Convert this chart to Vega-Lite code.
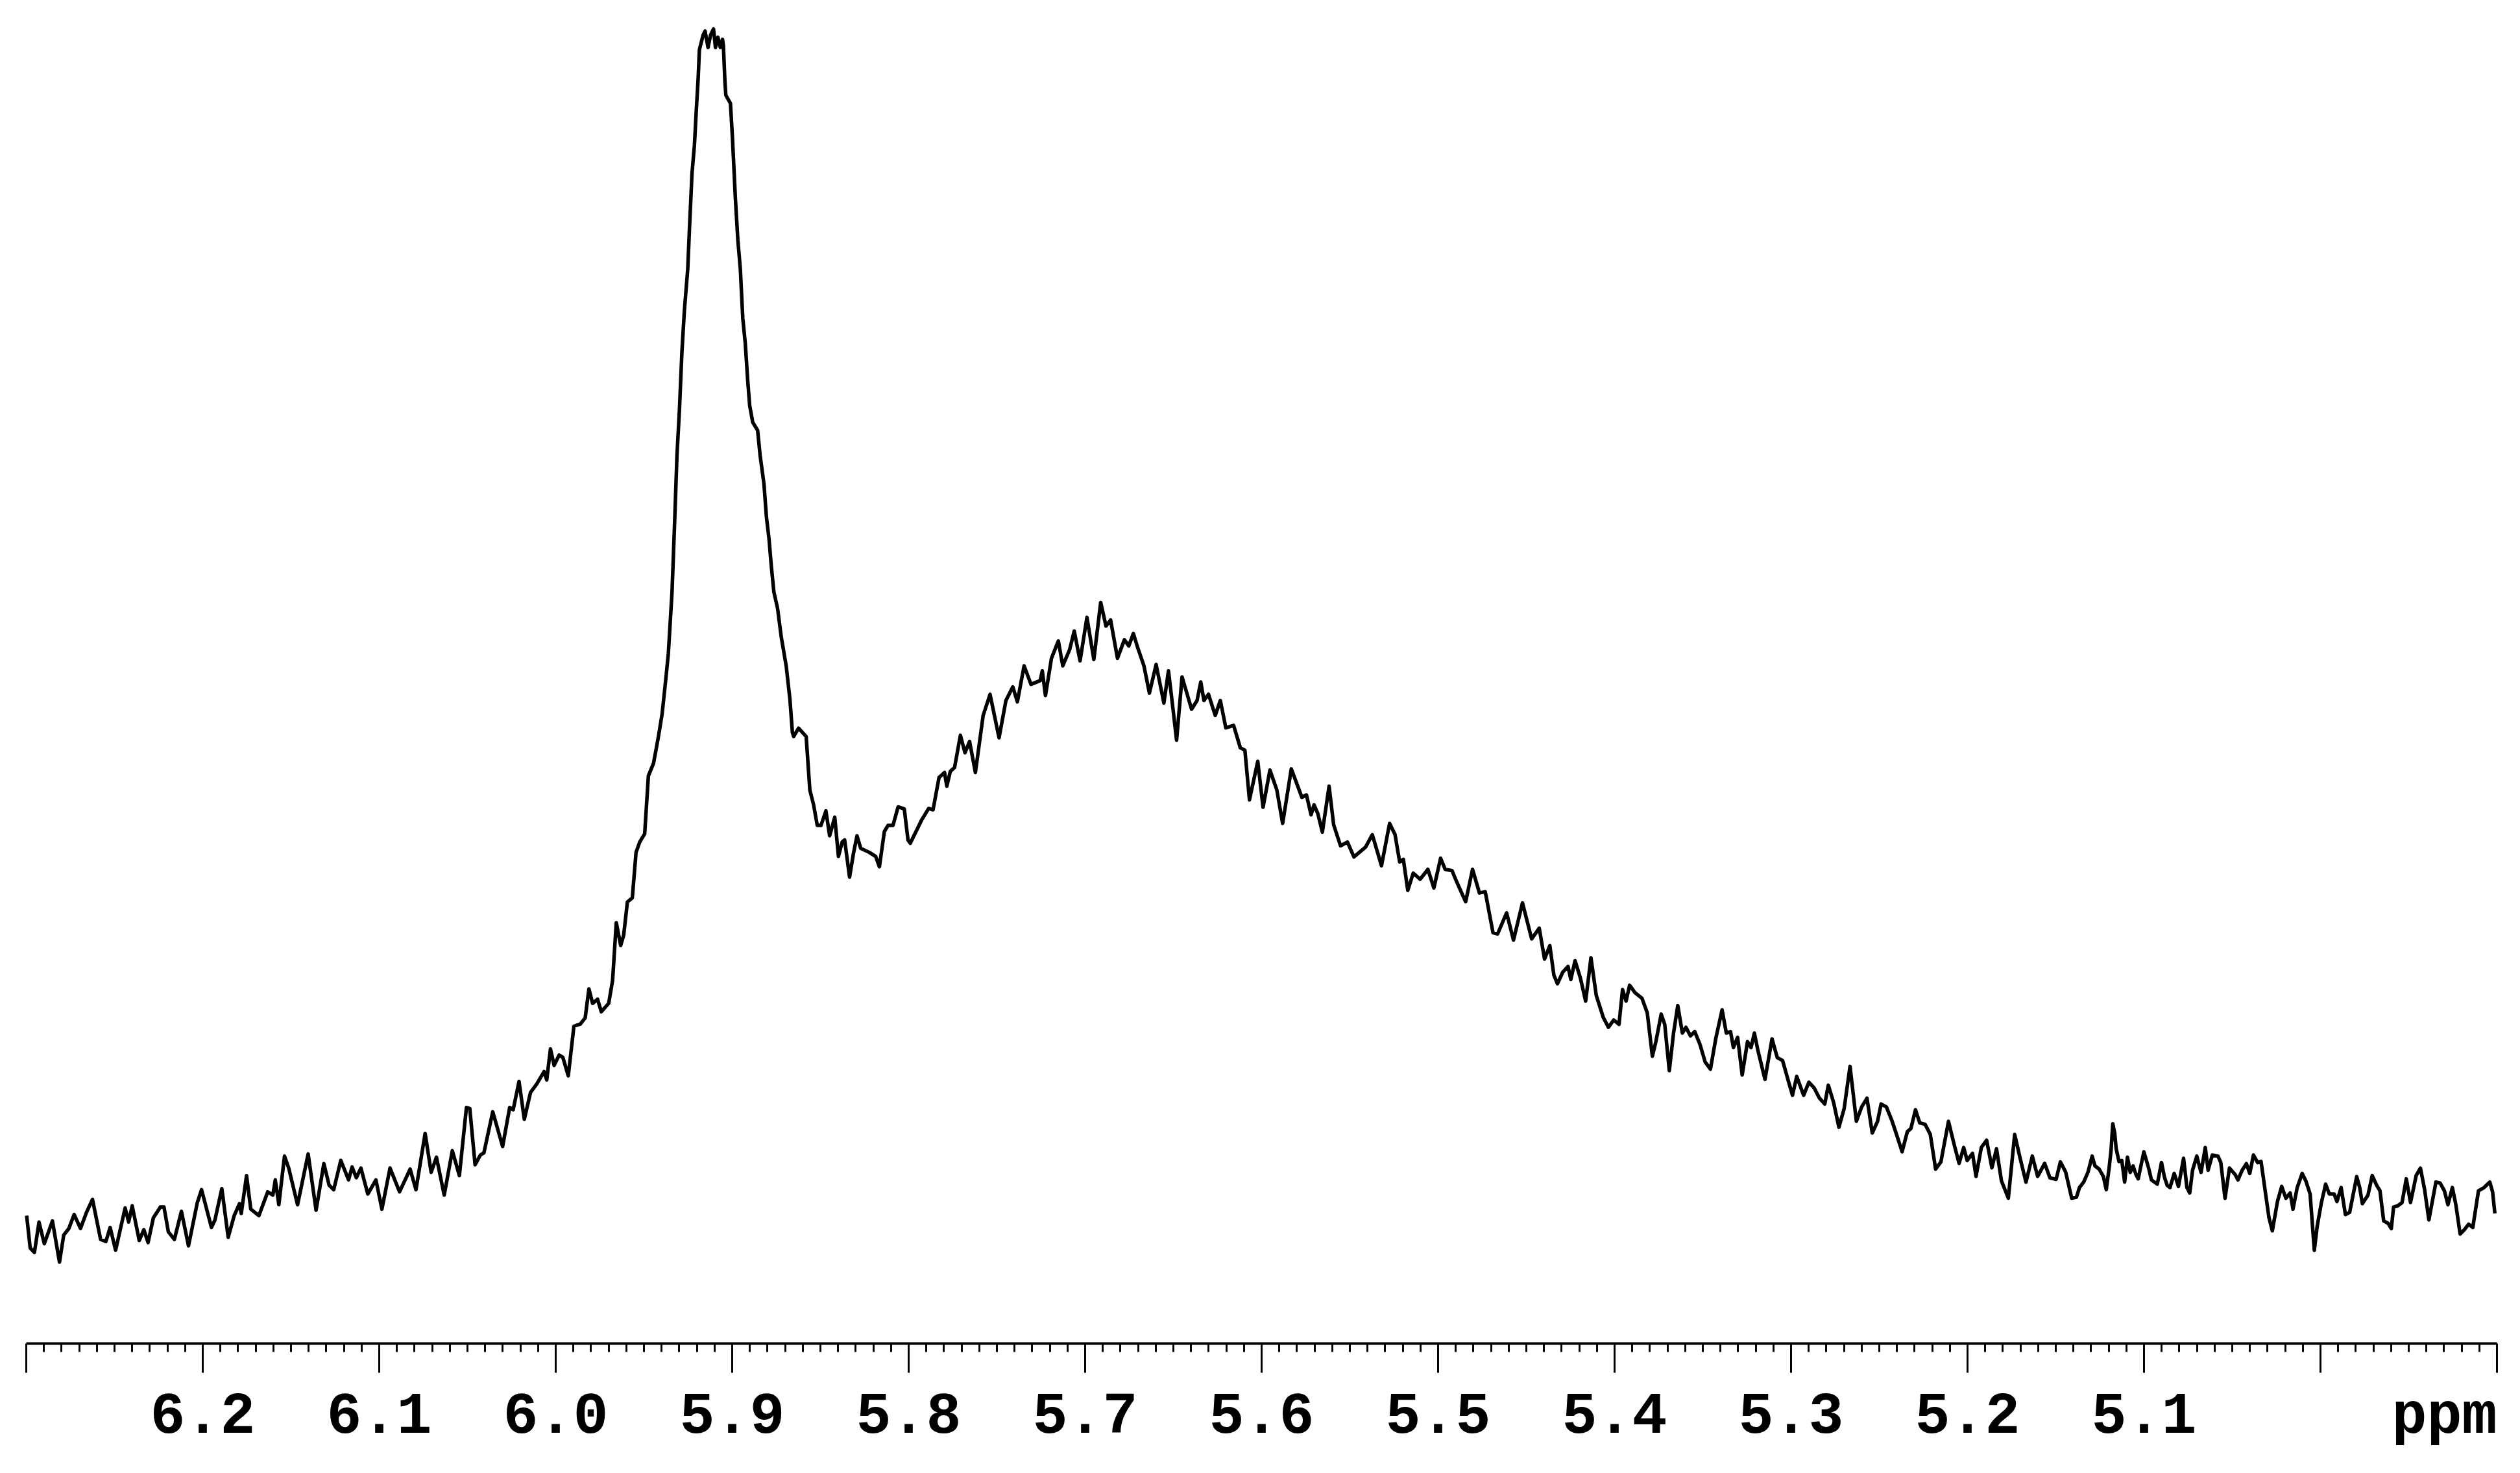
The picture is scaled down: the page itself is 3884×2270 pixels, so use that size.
{
  "$schema": "https://vega.github.io/schema/vega-lite/v6.json",
  "width": 3808,
  "height": 2070,
  "autosize": {"type": "none"},
  "padding": {"left": 40, "right": 36, "top": 0, "bottom": 200},
  "background": "white",
  "config": {"view": {"stroke": null}},
  "data": {"values": [
    {"ppm": 6.2996, "i": 9.50}, {"ppm": 6.2976, "i": 7.09}, {"ppm": 6.2952, "i": 6.76}, {"ppm": 6.2926, "i": 9.02},
    {"ppm": 6.2896, "i": 7.41}, {"ppm": 6.2850, "i": 9.10}, {"ppm": 6.2810, "i": 6.04}, {"ppm": 6.2786, "i": 8.05},
    {"ppm": 6.2757, "i": 8.54}, {"ppm": 6.2727, "i": 9.58}, {"ppm": 6.2691, "i": 8.54}, {"ppm": 6.2657, "i": 9.74},
    {"ppm": 6.2623, "i": 10.71}, {"ppm": 6.2577, "i": 7.73}, {"ppm": 6.2547, "i": 7.57}, {"ppm": 6.2523, "i": 8.62},
    {"ppm": 6.2492, "i": 6.93}, {"ppm": 6.2438, "i": 10.07}, {"ppm": 6.2418, "i": 9.02}, {"ppm": 6.2398, "i": 10.23},
    {"ppm": 6.2358, "i": 7.65}, {"ppm": 6.2332, "i": 8.45}, {"ppm": 6.2308, "i": 7.49}, {"ppm": 6.2278, "i": 9.34},
    {"ppm": 6.2238, "i": 10.15}, {"ppm": 6.2218, "i": 10.15}, {"ppm": 6.2193, "i": 8.29}, {"ppm": 6.2159, "i": 7.73},
    {"ppm": 6.2119, "i": 9.82}, {"ppm": 6.2079, "i": 7.25}, {"ppm": 6.2029, "i": 10.47}, {"ppm": 6.2005, "i": 11.43},
    {"ppm": 6.1949, "i": 8.62}, {"ppm": 6.1929, "i": 9.18}, {"ppm": 6.1890, "i": 11.51}, {"ppm": 6.1854, "i": 7.89},
    {"ppm": 6.1820, "i": 9.50}, {"ppm": 6.1790, "i": 10.39}, {"ppm": 6.1780, "i": 9.66}, {"ppm": 6.1750, "i": 12.48},
    {"ppm": 6.1726, "i": 9.98}, {"ppm": 6.1680, "i": 9.50}, {"ppm": 6.1630, "i": 11.27}, {"ppm": 6.1601, "i": 11.03},
    {"ppm": 6.1587, "i": 12.16}, {"ppm": 6.1567, "i": 10.31}, {"ppm": 6.1535, "i": 13.93}, {"ppm": 6.1511, "i": 13.04},
    {"ppm": 6.1461, "i": 10.31}, {"ppm": 6.1401, "i": 14.09}, {"ppm": 6.1356, "i": 9.90}, {"ppm": 6.1312, "i": 13.37},
    {"ppm": 6.1282, "i": 11.76}, {"ppm": 6.1256, "i": 11.43}, {"ppm": 6.1216, "i": 13.61}, {"ppm": 6.1172, "i": 12.16},
    {"ppm": 6.1152, "i": 13.12}, {"ppm": 6.1128, "i": 12.32}, {"ppm": 6.1102, "i": 13.04}, {"ppm": 6.1063, "i": 11.11},
    {"ppm": 6.1017, "i": 12.16}, {"ppm": 6.0983, "i": 9.98}, {"ppm": 6.0937, "i": 13.04}, {"ppm": 6.0883, "i": 11.27},
    {"ppm": 6.0823, "i": 12.96}, {"ppm": 6.0790, "i": 11.43}, {"ppm": 6.0738, "i": 15.62}, {"ppm": 6.0704, "i": 12.72},
    {"ppm": 6.0674, "i": 13.85}, {"ppm": 6.0630, "i": 11.03}, {"ppm": 6.0584, "i": 14.33}, {"ppm": 6.0544, "i": 12.48},
    {"ppm": 6.0504, "i": 17.55}, {"ppm": 6.0485, "i": 17.47}, {"ppm": 6.0455, "i": 13.29}, {"ppm": 6.0425, "i": 14.01},
    {"ppm": 6.0405, "i": 14.17}, {"ppm": 6.0355, "i": 17.23}, {"ppm": 6.0299, "i": 14.65}, {"ppm": 6.0259, "i": 17.55},
    {"ppm": 6.0239, "i": 17.39}, {"ppm": 6.0206, "i": 19.49},
    {"ppm": 6.0176, "i": 16.67}, {"ppm": 6.0141, "i": 18.67}, {"ppm": 6.0106, "i": 19.29}, {"ppm": 6.0064, "i": 20.22},
    {"ppm": 6.0049, "i": 19.60}, {"ppm": 6.0028, "i": 21.91}, {"ppm": 6.0007, "i": 20.68}, {"ppm": 5.9979, "i": 21.45},
    {"ppm": 5.9958, "i": 21.29}, {"ppm": 5.9927, "i": 19.91}, {"ppm": 5.9895, "i": 23.60}, {"ppm": 5.9859, "i": 23.76},
    {"ppm": 5.9831, "i": 24.22}, {"ppm": 5.9810, "i": 26.38}, {"ppm": 5.9789, "i": 25.30}, {"ppm": 5.9761, "i": 25.61},
    {"ppm": 5.9740, "i": 24.68}, {"ppm": 5.9698, "i": 25.30}, {"ppm": 5.9676, "i": 26.99}, {"ppm": 5.9655, "i": 31.31},
    {"ppm": 5.9630, "i": 29.61}, {"ppm": 5.9613, "i": 30.38}, {"ppm": 5.9592, "i": 32.85}, {"ppm": 5.9564, "i": 33.16},
    {"ppm": 5.9543, "i": 36.54}, {"ppm": 5.9522, "i": 37.31}, {"ppm": 5.9494, "i": 37.93}, {"ppm": 5.9473, "i": 42.24},
    {"ppm": 5.9444, "i": 43.17}, {"ppm": 5.9416, "i": 45.17}, {"ppm": 5.9395, "i": 46.87}, {"ppm": 5.9374, "i": 49.48},
    {"ppm": 5.9360, "i": 51.33},
    {"ppm": 5.9339, "i": 55.94}, {"ppm": 5.9325, "i": 60.87}, {"ppm": 5.9311, "i": 66.11}, {"ppm": 5.9297, "i": 69.50},
    {"ppm": 5.9283, "i": 73.81}, {"ppm": 5.9269, "i": 76.89}, {"ppm": 5.9250, "i": 79.97}, {"ppm": 5.9240, "i": 83.05},
    {"ppm": 5.9226, "i": 87.06}, {"ppm": 5.9212, "i": 89.22}, {"ppm": 5.9202, "i": 91.68}, {"ppm": 5.9191, "i": 94.15},
    {"ppm": 5.9184, "i": 96.30}, {"ppm": 5.9163, "i": 97.38}, {"ppm": 5.9152, "i": 97.69}, {"ppm": 5.9135, "i": 96.46},
    {"ppm": 5.9121, "i": 97.38}, {"ppm": 5.9104, "i": 97.84}, {"ppm": 5.9093, "i": 96.46}, {"ppm": 5.9079, "i": 97.23},
    {"ppm": 5.9065, "i": 96.46}, {"ppm": 5.9053, "i": 97.07}, {"ppm": 5.9048, "i": 96.61}, {"ppm": 5.9039, "i": 93.84},
    {"ppm": 5.9034, "i": 92.91}, {"ppm": 5.9008, "i": 92.30}, {"ppm": 5.8997, "i": 89.83}, {"ppm": 5.8980, "i": 85.21},
    {"ppm": 5.8966, "i": 82.13}, {"ppm": 5.8952, "i": 79.97}, {"ppm": 5.8938, "i": 76.28}, {"ppm": 5.8924, "i": 74.43},
    {"ppm": 5.8910, "i": 71.65}, {"ppm": 5.8899, "i": 69.81}, {"ppm": 5.8882, "i": 68.57}, {"ppm": 5.8854, "i": 67.96},
    {"ppm": 5.8840, "i": 66.11}, {"ppm": 5.8818, "i": 63.95}, {"ppm": 5.8804, "i": 61.49}, {"ppm": 5.8790, "i": 59.95},
    {"ppm": 5.8776, "i": 57.79}, {"ppm": 5.8762, "i": 55.94}, {"ppm": 5.8741, "i": 54.71},
    {"ppm": 5.8720, "i": 52.57}, {"ppm": 5.8692, "i": 50.41}, {"ppm": 5.8671, "i": 47.94}, {"ppm": 5.8657, "i": 45.48},
    {"ppm": 5.8650, "i": 45.17}, {"ppm": 5.8622, "i": 45.79}, {"ppm": 5.8579, "i": 45.17}, {"ppm": 5.8558, "i": 41.17},
    {"ppm": 5.8537, "i": 40.09}, {"ppm": 5.8516, "i": 38.55}, {"ppm": 5.8495, "i": 38.55}, {"ppm": 5.8467, "i": 39.63},
    {"ppm": 5.8446, "i": 37.78}, {"ppm": 5.8417, "i": 39.16}, {"ppm": 5.8396, "i": 36.24}, {"ppm": 5.8375, "i": 37.31},
    {"ppm": 5.8361, "i": 37.47}, {"ppm": 5.8333, "i": 34.70}, {"ppm": 5.8312, "i": 36.39}, {"ppm": 5.8291, "i": 37.78},
    {"ppm": 5.8270, "i": 36.85}, {"ppm": 5.8221, "i": 36.54}, {"ppm": 5.8185, "i": 36.24}, {"ppm": 5.8164, "i": 35.47},
    {"ppm": 5.8136, "i": 38.09}, {"ppm": 5.8115, "i": 38.55}, {"ppm": 5.8087, "i": 38.55}, {"ppm": 5.8058, "i": 39.93},
    {"ppm": 5.8023, "i": 39.78}, {"ppm": 5.8002, "i": 37.47},
    {"ppm": 5.7989, "i": 37.22}, {"ppm": 5.7924, "i": 38.97}, {"ppm": 5.7885, "i": 39.81}, {"ppm": 5.7860, "i": 39.71},
    {"ppm": 5.7826, "i": 42.12}, {"ppm": 5.7795, "i": 42.49}, {"ppm": 5.7782, "i": 41.47}, {"ppm": 5.7762, "i": 42.58},
    {"ppm": 5.7738, "i": 42.86}, {"ppm": 5.7705, "i": 45.26}, {"ppm": 5.7679, "i": 43.96}, {"ppm": 5.7653, "i": 44.80},
    {"ppm": 5.7620, "i": 42.49}, {"ppm": 5.7576, "i": 46.74}, {"ppm": 5.7537, "i": 48.31}, {"ppm": 5.7524, "i": 47.48},
    {"ppm": 5.7486, "i": 45.07}, {"ppm": 5.7447, "i": 47.85}, {"ppm": 5.7408, "i": 48.86}, {"ppm": 5.7382, "i": 47.75},
    {"ppm": 5.7344, "i": 50.43}, {"ppm": 5.7305, "i": 49.05}, {"ppm": 5.7253, "i": 49.33}, {"ppm": 5.7241, "i": 50.06},
    {"ppm": 5.7223, "i": 48.22}, {"ppm": 5.7189, "i": 50.99}, {"ppm": 5.7150, "i": 52.28}, {"ppm": 5.7125, "i": 50.43},
    {"ppm": 5.7086, "i": 51.64}, {"ppm": 5.7060, "i": 53.02}, {"ppm": 5.7027, "i": 50.80}, {"ppm": 5.6988, "i": 54.04},
    {"ppm": 5.6949, "i": 50.90}, {"ppm": 5.6910, "i": 55.15}, {"ppm": 5.6880, "i": 53.39}, {"ppm": 5.6854, "i": 53.85},
    {"ppm": 5.6815, "i": 50.99}, {"ppm": 5.6776, "i": 52.37}, {"ppm": 5.6751, "i": 51.91}, {"ppm": 5.6725, "i": 52.84},
    {"ppm": 5.6699, "i": 51.73}, {"ppm": 5.6665, "i": 50.43}, {"ppm": 5.6634, "i": 48.40}, {"ppm": 5.6596, "i": 50.53},
    {"ppm": 5.6552, "i": 47.66}, {"ppm": 5.6526, "i": 50.06}, {"ppm": 5.6506, "i": 47.85}, {"ppm": 5.6480, "i": 44.89},
    {"ppm": 5.6449, "i": 49.60}, {"ppm": 5.6395, "i": 47.20}, {"ppm": 5.6364, "i": 47.85}, {"ppm": 5.6343, "i": 49.23},
    {"ppm": 5.6325, "i": 47.85}, {"ppm": 5.6299, "i": 48.31}, {"ppm": 5.6261, "i": 46.74}, {"ppm": 5.6232, "i": 47.85},
    {"ppm": 5.6201, "i": 45.81}, {"ppm": 5.6157, "i": 46.00}, {"ppm": 5.6119, "i": 44.33}, {"ppm": 5.6093, "i": 44.15},
    {"ppm": 5.6067, "i": 40.45}, {"ppm": 5.6020, "i": 43.32}, {"ppm": 5.5990, "i": 39.90}, {"ppm": 5.5951, "i": 42.67},
    {"ppm": 5.5912, "i": 41.19}, {"ppm": 5.5879, "i": 38.70}, {"ppm": 5.5830, "i": 42.76}, {"ppm": 5.5796, "i": 41.56},
    {"ppm": 5.5770, "i": 40.64}, {"ppm": 5.5744, "i": 40.82}, {"ppm": 5.5718, "i": 39.34}, {"ppm": 5.5701, "i": 40.08},
    {"ppm": 5.5680, "i": 39.44}, {"ppm": 5.5654, "i": 38.05}, {"ppm": 5.5616, "i": 41.47}, {"ppm": 5.5590, "i": 38.60},
    {"ppm": 5.5551, "i": 37.03}, {"ppm": 5.5512, "i": 37.31}, {"ppm": 5.5475, "i": 36.20}, {"ppm": 5.5409, "i": 36.94},
    {"ppm": 5.5371, "i": 37.86}, {"ppm": 5.5319, "i": 35.55}, {"ppm": 5.5273, "i": 38.70}, {"ppm": 5.5242, "i": 37.86},
    {"ppm": 5.5216, "i": 35.83}, {"ppm": 5.5195, "i": 36.02}, {"ppm": 5.5170, "i": 33.71}, {"ppm": 5.5139, "i": 35.00},
    {"ppm": 5.5100, "i": 34.54}, {"ppm": 5.5056, "i": 35.28}, {"ppm": 5.5022, "i": 33.89}, {"ppm": 5.4984, "i": 36.11},
    {"ppm": 5.4958, "i": 35.28}, {"ppm": 5.4919, "i": 35.18}, {"ppm": 5.4893, "i": 34.35}, {"ppm": 5.4842, "i": 32.87},
    {"ppm": 5.4803, "i": 35.28}, {"ppm": 5.4764, "i": 33.52}, {"ppm": 5.4731, "i": 33.61}, {"ppm": 5.4687, "i": 30.56},
    {"ppm": 5.4661, "i": 30.47}, {"ppm": 5.4610, "i": 32.04}, {"ppm": 5.4571, "i": 30.01}, {"ppm": 5.4520, "i": 32.78},
    {"ppm": 5.4468, "i": 30.10}, {"ppm": 5.4425, "i": 30.90}, {"ppm": 5.4395, "i": 28.60}, {"ppm": 5.4365, "i": 29.60},
    {"ppm": 5.4342, "i": 27.40},
    {"ppm": 5.4322, "i": 26.76}, {"ppm": 5.4292, "i": 27.62}, {"ppm": 5.4262, "i": 28.05}, {"ppm": 5.4246, "i": 27.08},
    {"ppm": 5.4222, "i": 28.48}, {"ppm": 5.4192, "i": 27.19}, {"ppm": 5.4162, "i": 25.47}, {"ppm": 5.4132, "i": 28.70},
    {"ppm": 5.4102, "i": 25.90}, {"ppm": 5.4063, "i": 24.28}, {"ppm": 5.4033, "i": 23.52}, {"ppm": 5.4003, "i": 24.06},
    {"ppm": 5.3973, "i": 23.74}, {"ppm": 5.3953, "i": 26.33}, {"ppm": 5.3933, "i": 25.47}, {"ppm": 5.3913, "i": 26.65},
    {"ppm": 5.3883, "i": 26.11}, {"ppm": 5.3843, "i": 25.68}, {"ppm": 5.3813, "i": 24.60}, {"ppm": 5.3784, "i": 21.37},
    {"ppm": 5.3764, "i": 22.45}, {"ppm": 5.3734, "i": 24.50}, {"ppm": 5.3714, "i": 23.74}, {"ppm": 5.3688, "i": 20.29},
    {"ppm": 5.3664, "i": 23.09}, {"ppm": 5.3640, "i": 25.14}, {"ppm": 5.3614, "i": 23.09}, {"ppm": 5.3594, "i": 23.52},
    {"ppm": 5.3568, "i": 22.88}, {"ppm": 5.3544, "i": 23.20}, {"ppm": 5.3514, "i": 22.23}, {"ppm": 5.3485, "i": 20.94},
    {"ppm": 5.3455, "i": 20.40}, {"ppm": 5.3425, "i": 22.66}, {"ppm": 5.3389, "i": 24.82}, {"ppm": 5.3365, "i": 23.09},
    {"ppm": 5.3341, "i": 23.20}, {"ppm": 5.3325, "i": 22.01}, {"ppm": 5.3301, "i": 22.77}, {"ppm": 5.3275, "i": 19.97},
    {"ppm": 5.3245, "i": 22.45}, {"ppm": 5.3225, "i": 22.01}, {"ppm": 5.3206, "i": 23.09}, {"ppm": 5.3186, "i": 21.80},
    {"ppm": 5.3146, "i": 19.64}, {"ppm": 5.3106, "i": 22.66}, {"ppm": 5.3076, "i": 21.26}, {"ppm": 5.3046, "i": 21.04},
    {"ppm": 5.3016, "i": 19.64}, {"ppm": 5.2990, "i": 18.46}, {"ppm": 5.2966, "i": 19.86}, {"ppm": 5.2927, "i": 18.46},
    {"ppm": 5.2897, "i": 19.43}, {"ppm": 5.2867, "i": 19.00}, {"ppm": 5.2837, "i": 18.24}, {"ppm": 5.2807, "i": 17.81},
    {"ppm": 5.2787, "i": 19.21}, {"ppm": 5.2757, "i": 17.92}, {"ppm": 5.2727, "i": 16.08}, {"ppm": 5.2697, "i": 17.49},
    {"ppm": 5.2664, "i": 20.61}, {"ppm": 5.2628, "i": 16.52}, {"ppm": 5.2598, "i": 17.59}, {"ppm": 5.2568, "i": 18.24},
    {"ppm": 5.2538, "i": 15.65}, {"ppm": 5.2508, "i": 16.52}, {"ppm": 5.2488, "i": 17.81}, {"ppm": 5.2458, "i": 17.59},
    {"ppm": 5.2428, "i": 16.62}, {"ppm": 5.2398, "i": 15.44}, {"ppm": 5.2369, "i": 14.25}, {"ppm": 5.2339, "i": 15.76},
    {"ppm": 5.2319, "i": 15.98}, {"ppm": 5.2293, "i": 17.38}, {"ppm": 5.2269, "i": 16.41}, {"ppm": 5.2239, "i": 16.30},
    {"ppm": 5.2209, "i": 15.54}, {"ppm": 5.2179, "i": 12.96}, {"ppm": 5.2149, "i": 13.50}, {"ppm": 5.2106, "i": 16.52},
    {"ppm": 5.2074, "i": 14.79}, {"ppm": 5.2046, "i": 13.39}, {"ppm": 5.2020, "i": 14.57}, {"ppm": 5.2000, "i": 13.60},
    {"ppm": 5.1970, "i": 14.14}, {"ppm": 5.1950, "i": 12.42}, {"ppm": 5.1920, "i": 14.57}, {"ppm": 5.1890, "i": 15.11},
    {"ppm": 5.1860, "i": 13.06}, {"ppm": 5.1834, "i": 14.47}, {"ppm": 5.1806, "i": 12.09}, {"ppm": 5.1767, "i": 10.80},
    {"ppm": 5.1731, "i": 15.54}, {"ppm": 5.1701, "i": 13.82}, {"ppm": 5.1667, "i": 11.99}, {"ppm": 5.1631, "i": 13.93},
    {"ppm": 5.1601, "i": 12.42}, {"ppm": 5.1561, "i": 13.39}, {"ppm": 5.1531, "i": 12.31}, {"ppm": 5.1496, "i": 12.20},
    {"ppm": 5.1472, "i": 13.50}, {"ppm": 5.1442, "i": 12.74}, {"ppm": 5.1408, "i": 10.80},
    {"ppm": 5.1381, "i": 10.87}, {"ppm": 5.1364, "i": 11.59}, {"ppm": 5.1340, "i": 12.00}, {"ppm": 5.1316, "i": 12.72},
    {"ppm": 5.1292, "i": 13.93}, {"ppm": 5.1276, "i": 13.20}, {"ppm": 5.1252, "i": 12.96}, {"ppm": 5.1228, "i": 12.40},
    {"ppm": 5.1212, "i": 11.43}, {"ppm": 5.1196, "i": 13.04}, {"ppm": 5.1185, "i": 14.33}, {"ppm": 5.1175, "i": 16.34},
    {"ppm": 5.1164, "i": 15.62}, {"ppm": 5.1156, "i": 14.49}, {"ppm": 5.1140, "i": 13.53}, {"ppm": 5.1124, "i": 13.61},
    {"ppm": 5.1108, "i": 12.00}, {"ppm": 5.1092, "i": 13.85}, {"ppm": 5.1076, "i": 12.72}, {"ppm": 5.1060, "i": 13.20},
    {"ppm": 5.1044, "i": 12.56}, {"ppm": 5.1031, "i": 12.24}, {"ppm": 5.0999, "i": 14.25}, {"ppm": 5.0972, "i": 13.04},
    {"ppm": 5.0956, "i": 12.16}, {"ppm": 5.0923, "i": 11.84}, {"ppm": 5.0899, "i": 13.45}, {"ppm": 5.0883, "i": 12.40},
    {"ppm": 5.0867, "i": 11.76}, {"ppm": 5.0851, "i": 11.59}, {"ppm": 5.0827, "i": 12.64}, {"ppm": 5.0803, "i": 11.67},
    {"ppm": 5.0774, "i": 13.77}, {"ppm": 5.0755, "i": 11.59}, {"ppm": 5.0739, "i": 11.19}, {"ppm": 5.0723, "i": 12.88},
    {"ppm": 5.0699, "i": 13.93}, {"ppm": 5.0675, "i": 12.72}, {"ppm": 5.0651, "i": 14.57}, {"ppm": 5.0635, "i": 12.88},
    {"ppm": 5.0611, "i": 14.01}, {"ppm": 5.0579, "i": 13.93}, {"ppm": 5.0563, "i": 13.45}, {"ppm": 5.0539, "i": 10.79},
    {"ppm": 5.0514, "i": 13.04}, {"ppm": 5.0482, "i": 12.56}, {"ppm": 5.0466, "i": 12.16}, {"ppm": 5.0442, "i": 12.88},
    {"ppm": 5.0418, "i": 13.37}, {"ppm": 5.0399, "i": 12.64}, {"ppm": 5.0378, "i": 14.01}, {"ppm": 5.0354, "i": 13.45},
    {"ppm": 5.0335, "i": 13.53}, {"ppm": 5.0309, "i": 11.11}, {"ppm": 5.0290, "i": 9.34}, {"ppm": 5.0271, "i": 8.37},
    {"ppm": 5.0242, "i": 10.55}, {"ppm": 5.0218, "i": 11.67}, {"ppm": 5.0194, "i": 10.79}, {"ppm": 5.0170, "i": 11.19},
    {"ppm": 5.0154, "i": 9.98}, {"ppm": 5.0130, "i": 11.59}, {"ppm": 5.0102, "i": 12.64}, {"ppm": 5.0081, "i": 12.08},
    {"ppm": 5.0057, "i": 11.11}, {"ppm": 5.0033, "i": 6.92}, {"ppm": 5.0017, "i": 8.70}, {"ppm": 4.9993, "i": 10.47},
    {"ppm": 4.9969, "i": 11.84}, {"ppm": 4.9948, "i": 11.11}, {"ppm": 4.9921, "i": 11.11}, {"ppm": 4.9905, "i": 10.55},
    {"ppm": 4.9881, "i": 11.59}, {"ppm": 4.9857, "i": 9.58}, {"ppm": 4.9833, "i": 9.74}, {"ppm": 4.9793, "i": 12.40},
    {"ppm": 4.9776, "i": 11.59}, {"ppm": 4.9761, "i": 10.39}, {"ppm": 4.9729, "i": 11.03}, {"ppm": 4.9705, "i": 12.48},
    {"ppm": 4.9680, "i": 11.76}, {"ppm": 4.9661, "i": 11.35}, {"ppm": 4.9640, "i": 9.10}, {"ppm": 4.9616, "i": 8.94},
    {"ppm": 4.9597, "i": 8.53}, {"ppm": 4.9584, "i": 10.14}, {"ppm": 4.9560, "i": 10.23}, {"ppm": 4.9536, "i": 10.47},
    {"ppm": 4.9512, "i": 12.24}, {"ppm": 4.9488, "i": 10.47}, {"ppm": 4.9456, "i": 12.48}, {"ppm": 4.9432, "i": 13.04},
    {"ppm": 4.9408, "i": 11.43}, {"ppm": 4.9384, "i": 9.18}, {"ppm": 4.9344, "i": 12.00}, {"ppm": 4.9320, "i": 11.92},
    {"ppm": 4.9296, "i": 11.35}, {"ppm": 4.9276, "i": 10.31}, {"ppm": 4.9251, "i": 11.59}, {"ppm": 4.9231, "i": 10.31},
    {"ppm": 4.9207, "i": 8.13}, {"ppm": 4.9183, "i": 8.45}, {"ppm": 4.9159, "i": 8.86}, {"ppm": 4.9135, "i": 8.62},
    {"ppm": 4.9103, "i": 11.35}, {"ppm": 4.9071, "i": 11.59}, {"ppm": 4.9039, "i": 12.00}, {"ppm": 4.9023, "i": 11.27},
    {"ppm": 4.9010, "i": 9.66}
  ]},
  "mark": {"type": "line", "color": "black", "strokeWidth": 5.5, "interpolate": "linear", "strokeJoin": "round"},
  "encoding": {
    "x": {
      "field": "ppm",
      "type": "quantitative",
      "scale": {"domain": [4.9, 6.3], "reverse": true, "nice": false, "zero": false},
      "axis": {
        "title": null,
        "grid": false,
        "values": [4.9,4.91,4.92,4.93,4.94,4.95,4.96,4.97,4.98,4.99,5,5.01,5.02,5.03,5.04,5.05,5.06,5.07,5.08,5.09,5.1,5.11,5.12,5.13,5.14,5.15,5.16,5.17,5.18,5.19,5.2,5.21,5.22,5.23,5.24,5.25,5.26,5.27,5.28,5.29,5.3,5.31,5.32,5.33,5.34,5.35,5.36,5.37,5.38,5.39,5.4,5.41,5.42,5.43,5.44,5.45,5.46,5.47,5.48,5.49,5.5,5.51,5.52,5.53,5.54,5.55,5.56,5.57,5.58,5.59,5.6,5.61,5.62,5.63,5.64,5.65,5.66,5.67,5.68,5.69,5.7,5.71,5.72,5.73,5.74,5.75,5.76,5.77,5.78,5.79,5.8,5.81,5.82,5.83,5.84,5.85,5.86,5.87,5.88,5.89,5.9,5.91,5.92,5.93,5.94,5.95,5.96,5.97,5.98,5.99,6,6.01,6.02,6.03,6.04,6.05,6.06,6.07,6.08,6.09,6.1,6.11,6.12,6.13,6.14,6.15,6.16,6.17,6.18,6.19,6.2,6.21,6.22,6.23,6.24,6.25,6.26,6.27,6.28,6.29,6.3],
        "domainColor": "black",
        "domainWidth": 4,
        "tickColor": "black",
        "tickWidth": 3,
        "tickSize": {"condition": {"test": "round(datum.value*100)%10==0", "value": 45}, "value": 13},
        "labelExpr": "abs(datum.value-4.9)<0.001 ? 'ppm' : ((round(datum.value*100)%10==0 && datum.value>5.05 && datum.value<6.25) ? format(datum.value,'.1f') : '')",
        "labelAlign": {"condition": {"test": "abs(datum.value-4.9)<0.001", "value": "right"}, "value": "center"},
        "labelFont": "Liberation Mono",
        "labelFontWeight": "bold",
        "labelFontSize": 90,
        "labelColor": "black",
        "labelPadding": 21,
        "labelOverlap": false,
        "labelFlush": false,
        "labelBound": false
      }
    },
    "y": {
      "field": "i",
      "type": "quantitative",
      "scale": {"domain": [0, 100], "nice": false, "zero": false},
      "axis": null
    }
  }
}
